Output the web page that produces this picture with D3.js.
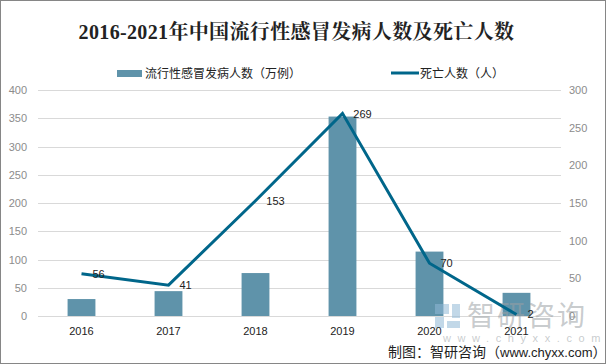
<!DOCTYPE html>
<html><head><meta charset="utf-8">
<script src="https://cdn.jsdelivr.net/npm/d3@7/dist/d3.min.js"></script>
<style>html,body{margin:0;padding:0;background:#fff}svg{display:block}text{font-family:"Liberation Sans","Noto Sans CJK SC",sans-serif}</style>
</head><body><div id="c"></div>
<script>
const years=["2016","2017","2018","2019","2020","2021"];
const cases=[30,44,76,353,114,41];
const deaths=[56,41,153,269,70,2];
const leftTicks=[0,50,100,150,200,250,300,350,400];
const rightTicks=[0,50,100,150,200,250,300];
const titleText="2016-2021年中国流行性感冒发病人数及死亡人数";
const barName="流行性感冒发病人数（万例）";
const lineName="死亡人数（人）";
const W=606,H=364;
const svg=d3.select("#c").append("svg").attr("width",W).attr("height",H);
svg.append("rect").attr("x",0.5).attr("y",0.5).attr("width",W-1).attr("height",H-1).attr("fill","#fff").attr("stroke","#868686");
const x=d3.scaleBand().domain(years).range([38,560]).paddingInner(0.68).paddingOuter(0.34);
const yL=d3.scaleLinear().domain([0,400]).range([316,90]);
const yR=d3.scaleLinear().domain([0,300]).range([316,90]);
const cx=d=>x(d)+x.bandwidth()/2;
svg.append("g").selectAll("line").data(leftTicks).join("line")
 .attr("x1",38).attr("x2",561).attr("y1",d=>Math.round(yL(d))+.5).attr("y2",d=>Math.round(yL(d))+.5)
 .attr("stroke","#d9d9d9");
svg.append("g").selectAll("rect").data(years).join("rect")
 .attr("x",d=>x(d)).attr("width",x.bandwidth())
 .attr("y",(d,i)=>yL(cases[i])).attr("height",(d,i)=>yL(0)-yL(cases[i])).attr("fill","#5f93aa");
// watermark
const wm=svg.append("g");
wm.append("text").attr("x",467).attr("y",326).attr("font-size",28).attr("fill","#9aa0a4").attr("fill-opacity",.55).attr("letter-spacing",2).text("智研咨询");
wm.append("text").attr("x",443).attr("y",342).attr("font-size",11).attr("fill","#9aa0a4").attr("fill-opacity",.55).attr("letter-spacing",6.6).text("www.chyxx.com");
wm.append("path").attr("d","M435 304h14v10h-14zM435 317h9v11h-9zM452 304h8v14h-8zM447 321h13v7h-13z").attr("fill","#8fb8d6").attr("fill-opacity",.55);
// axis labels
svg.append("g").selectAll("text").data(leftTicks).join("text")
 .attr("x",27).attr("y",d=>yL(d)+4).attr("text-anchor","end").attr("font-size",11).attr("fill","#8c8c8c").text(d=>d);
svg.append("g").selectAll("text").data(rightTicks).join("text")
 .attr("x",569).attr("y",d=>yR(d)+4).attr("font-size",11).attr("fill","#8c8c8c").text(d=>d);
svg.append("g").selectAll("text").data(years).join("text")
 .attr("x",cx).attr("y",335).attr("text-anchor","middle").attr("font-size",11).attr("fill","#222").text(d=>d);
const line=d3.line().x((d,i)=>cx(years[i])).y(d=>yR(d));
svg.append("path").datum(deaths).attr("d",line).attr("fill","none").attr("stroke","#00668a").attr("stroke-width",3);
const labelDx=[17,17,20,20,17,14], labelDy=[4,4,4,5,4,4];
svg.append("g").selectAll("text").data(deaths).join("text")
 .attr("x",(d,i)=>cx(years[i])+labelDx[i]).attr("y",(d,i)=>yR(d)+labelDy[i])
 .attr("text-anchor","middle").attr("font-size",11).attr("fill","#222").text(d=>d);
svg.append("text").attr("x",296.5).attr("y",39).attr("text-anchor","middle").attr("font-size",20).attr("font-weight",700).attr("letter-spacing",.35)
 .attr("fill","#222").style("font-family",'"Liberation Serif","Noto Serif CJK SC","Noto Sans CJK SC",serif').text(titleText);
svg.append("rect").attr("x",117).attr("y",70).attr("width",25).attr("height",7).attr("fill","#5f93aa");
svg.append("text").attr("x",145).attr("y",78).attr("font-size",12).attr("fill","#222").text(barName);
svg.append("line").attr("x1",391).attr("x2",419).attr("y1",73).attr("y2",73).attr("stroke","#00668a").attr("stroke-width",3);
svg.append("text").attr("x",420).attr("y",78).attr("font-size",12).attr("fill","#222").text(lineName);
const src=svg.append("text").attr("x",388).attr("y",357).attr("font-size",14).attr("fill","#222");
src.append("tspan").text("制图：智研咨询（");
src.append("tspan").attr("font-size",13).text("www.chyxx.com");
src.append("tspan").text("）");
</script></body></html>
